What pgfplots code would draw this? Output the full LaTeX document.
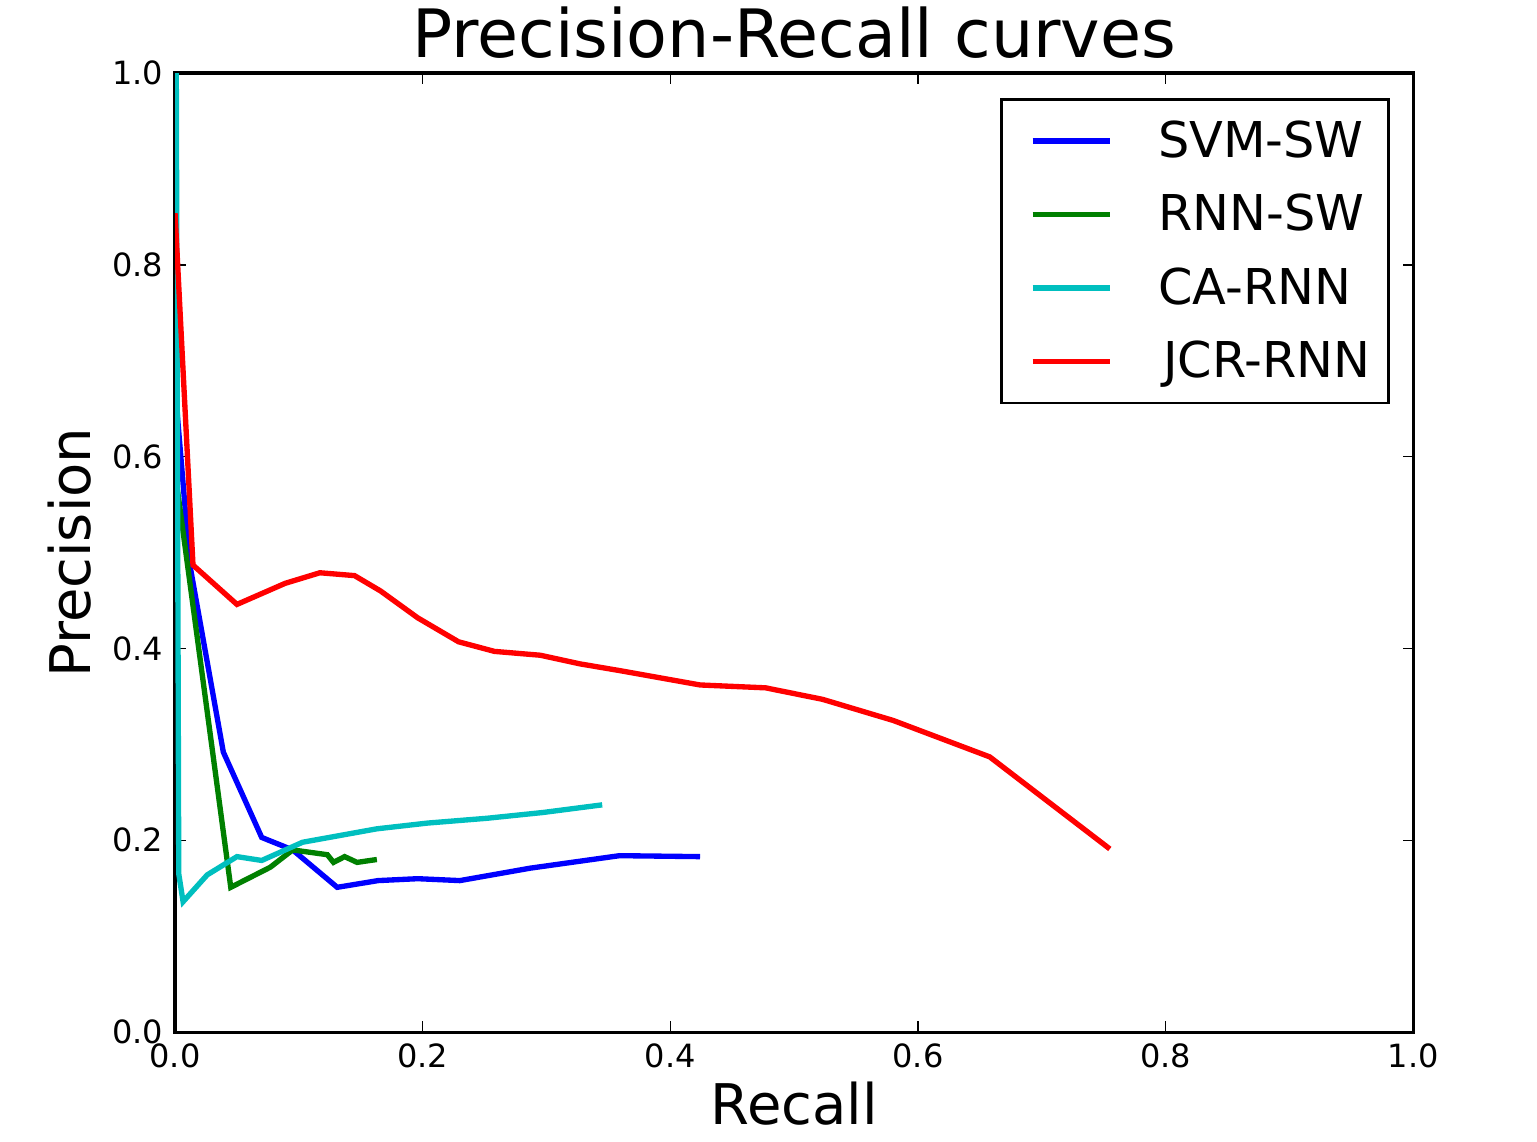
\documentclass[border=0pt]{standalone}
\usepackage{pgfplots}
\pgfplotsset{compat=1.18}
\usepackage{fontspec}
\setmainfont{DejaVu Sans}
\definecolor{mblue}{rgb}{0,0,1}
\definecolor{mgreen}{rgb}{0,0.5,0}
\definecolor{mcyan}{rgb}{0,0.75,0.75}
\definecolor{mred}{rgb}{1,0,0}
\begin{document}
\begin{tikzpicture}
\begin{axis}[
  at={(0,0)}, anchor=south west,
  scale only axis, width=464pt, height=359.4pt,
  xmin=0, xmax=1, ymin=0, ymax=1,
  xtick={0,0.2,0.4,0.6,0.8,1.0},
  ytick={0,0.2,0.4,0.6,0.8,1.0},
  xticklabels={0.0,0.2,0.4,0.6,0.8,1.0},
  yticklabels={0.0,0.2,0.4,0.6,0.8,1.0},
  tick align=inside,
  tick pos=both,
  major tick length=4pt,
  every tick/.style={black, line width=0.5pt},
  axis line style={line width=1.2pt},
  /pgf/number format/assume math mode=true,
  tick label style={font=\fontsize{12}{14}\selectfont},
  xticklabel style={yshift=-1pt},
  yticklabel style={xshift=-1pt},
  title={Precision-Recall curves},
  title style={font=\fontsize{25}{30}\selectfont, yshift=-4pt},
  xlabel={Recall},
  ylabel={Precision},
  label style={font=\fontsize{21}{25}\selectfont},
  xlabel style={yshift=-0.5pt, inner ysep=1pt},
  ylabel style={yshift=1pt},
  legend style={at={(rel axis cs:0.981,0.974)}, anchor=north east,
    draw=black, line width=1pt,
    font=\fontsize{18.5}{22}\selectfont,
    inner xsep=4.6pt, inner ysep=6pt,
    row sep=8.3pt,
    cells={anchor=west},
    nodes={inner sep=2pt}},
  legend image code/.code={\path (0pt,0pt); \draw[#1, line width=2pt] (6pt,0pt) -- (35pt,0pt);},
  legend cell align=left,
]
\addplot[mblue, line width=2pt] coordinates {
(0,0.75) (0.0008,0.66) (0.012,0.487) (0.039,0.292) (0.070,0.203) (0.095,0.190)
(0.131,0.151) (0.164,0.158) (0.196,0.160) (0.230,0.158) (0.287,0.171)
(0.359,0.184) (0.424,0.183)};
\addlegendentry{\hspace{15pt}SVM-SW}
\addplot[mgreen, line width=2pt] coordinates {
(0,0.59) (0.002,0.565) (0.045,0.151) (0.077,0.172) (0.095,0.190) (0.123,0.185)
(0.128,0.177) (0.137,0.183) (0.147,0.177) (0.163,0.180)};
\addlegendentry{\hspace{15pt}RNN-SW}
\addplot[mcyan, line width=2pt] coordinates {
(0.001,1.0) (0.003,0.165) (0.0065,0.136) (0.026,0.164) (0.050,0.183)
(0.070,0.179) (0.103,0.198) (0.163,0.212) (0.204,0.218) (0.252,0.223)
(0.297,0.229) (0.345,0.237)};
\addlegendentry{\hspace{15pt}CA-RNN}
\addplot[mred, line width=2pt] coordinates {
(0,0.854) (0.0145,0.487) (0.050,0.446) (0.089,0.468) (0.117,0.479)
(0.145,0.476) (0.166,0.460) (0.196,0.432) (0.229,0.407) (0.258,0.397)
(0.295,0.393) (0.327,0.384) (0.359,0.377) (0.424,0.362) (0.477,0.359)
(0.523,0.347) (0.580,0.325) (0.658,0.287) (0.755,0.191)};
\addlegendentry{\hspace{17pt}JCR-RNN}
\end{axis}
\pgfresetboundingbox
\path (-65.6pt,-40.9pt) rectangle (510.4pt,386.8pt);
\end{tikzpicture}
\end{document}
